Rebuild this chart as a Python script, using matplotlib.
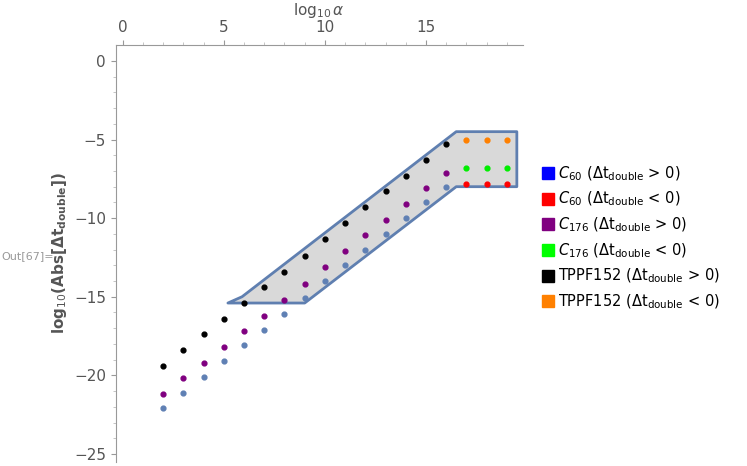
import matplotlib
matplotlib.use("Agg")
import matplotlib.pyplot as plt
from matplotlib.patches import Polygon
from matplotlib.lines import Line2D

x_main = [2,3,4,5,6,7,8,9,10,11,12,13,14,15,16]
c60_pos = [-22.1,-21.1,-20.1,-19.1,-18.1,-17.1,-16.1,-15.1,-14.0,-13.0,-12.0,-11.0,-10.0,-9.0,-8.0]
c176_pos = [-21.2,-20.2,-19.2,-18.2,-17.2,-16.2,-15.2,-14.2,-13.1,-12.1,-11.1,-10.1,-9.1,-8.1,-7.1]
tppf_pos = [-19.4,-18.4,-17.4,-16.4,-15.4,-14.4,-13.4,-12.4,-11.3,-10.3,-9.3,-8.3,-7.3,-6.3,-5.3]
x_neg = [17,18,19]
c60_neg = [-7.8,-7.8,-7.8]
c176_neg = [-6.8,-6.8,-6.8]
tppf_neg = [-5.0,-5.0,-5.0]
region = [(5.2,-15.4),(9.0,-15.4),(16.5,-8.0),(19.5,-8.0),(19.5,-4.5),(16.5,-4.5),(5.9,-15.0)]

fig = plt.figure(figsize=(7.47,4.66), dpi=100)
ax = fig.add_axes([0.155,0.009,0.545,0.894])
ax.add_patch(Polygon(region, closed=True, facecolor="#d9d9d9", edgecolor="#5f7fb0", lw=2, joinstyle="round"))
ax.scatter(x_main, c60_pos, s=12, color="#5f80b4", zorder=3)
ax.scatter(x_main, c176_pos, s=12, color="#800080", zorder=3)
ax.scatter(x_main, tppf_pos, s=12, color="black", zorder=3)
ax.scatter(x_neg, c60_neg, s=12, color="red", zorder=3)
ax.scatter(x_neg, c176_neg, s=12, color="#00ee00", zorder=3)
ax.scatter(x_neg, tppf_neg, s=12, color="#ff8000", zorder=3)

ax.set_xlim(-0.35,19.8)
ax.set_ylim(-25.5,1.0)
ax.xaxis.tick_top()
ax.xaxis.set_label_position("top")
for s in ["right","bottom"]:
    ax.spines[s].set_visible(False)
for s in ["left","top"]:
    ax.spines[s].set_color("#999999")
ax.set_xticks([0,5,10,15])
ax.set_yticks([0,-5,-10,-15,-20,-25])
ax.set_xticks(range(0,20), minor=True)
ax.set_yticks(range(-25,1), minor=True)
ax.tick_params(colors="#999999", labelcolor="#555555", labelsize=11)
ax.tick_params(which="minor", colors="#bbbbbb", length=2)
ax.set_xlabel(r"$\log_{10}\alpha$", color="#555555", fontsize=11, fontweight="bold")
ax.set_ylabel(r"log$_{10}$(Abs[$\mathbf{\Delta t_{double}}$])", color="#555555", fontsize=11, fontweight="bold")
fig.text(0.002,0.445,"Out[67]=",color="#999999",fontsize=8)

labels = [r"$C_{60}$ ($\Delta$t$_{\rm double}$ > 0)", r"$C_{60}$ ($\Delta$t$_{\rm double}$ < 0)",
          r"$C_{176}$ ($\Delta$t$_{\rm double}$ > 0)", r"$C_{176}$ ($\Delta$t$_{\rm double}$ < 0)",
          r"TPPF152 ($\Delta$t$_{\rm double}$ > 0)", r"TPPF152 ($\Delta$t$_{\rm double}$ < 0)"]
cols = ["blue","red","purple","#00ff00","black","#ff8000"]
handles = [Line2D([],[],marker="s",ls="",color=c,markersize=9) for c in cols]
fig.legend(handles, labels, loc="center left", bbox_to_anchor=(0.71,0.49), frameon=False,
           fontsize=10.5, handletextpad=0.1, labelspacing=0.5, borderpad=0.1, handlelength=1.2)
fig.savefig("out.png", dpi=100)
